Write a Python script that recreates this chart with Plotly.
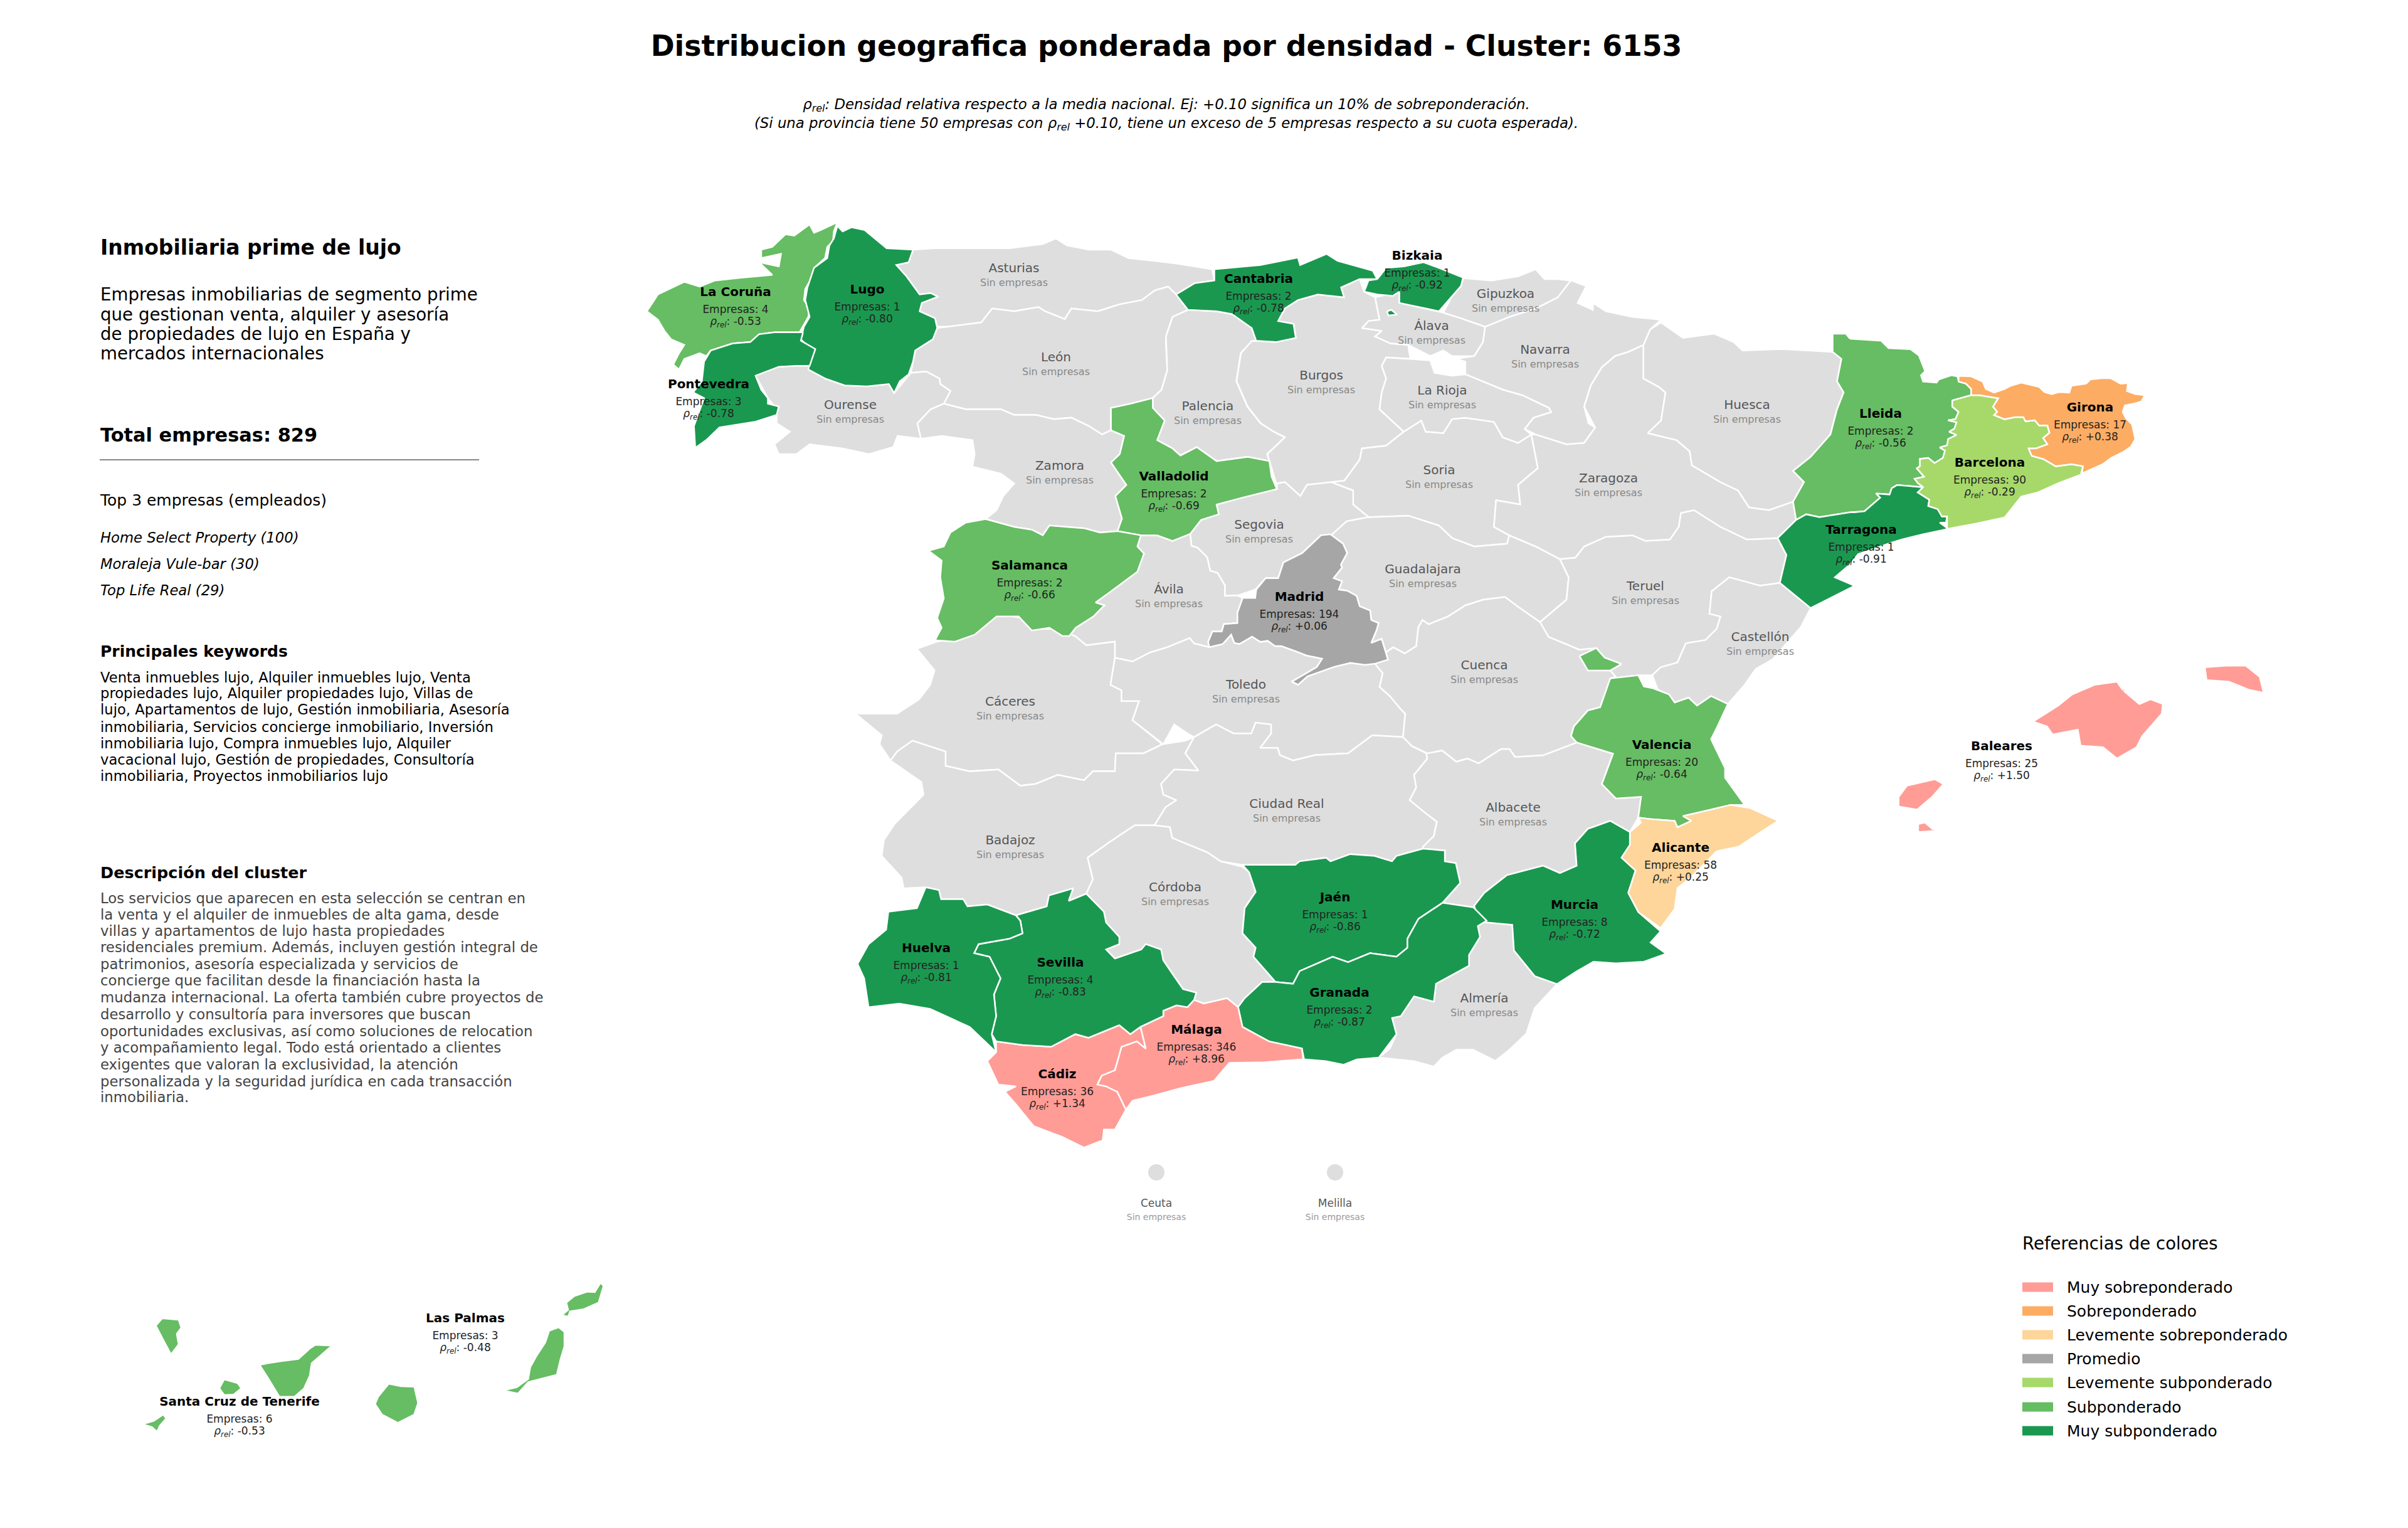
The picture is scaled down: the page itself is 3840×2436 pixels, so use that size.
#!/usr/bin/env python3
# -*- coding: utf-8 -*-
import plotly.graph_objects as go

# each outline was traced on a crop of the map, crop = (left, top, x scale, y scale)
CROPS = {
    "A": (1000, 340, 1.4255, 2.24),
    "B": (2000, 340, 1.4255, 2.24),
    "C": (1350, 1000, 1.4255, 1.742),
    "D": (2300, 1000, 1.12, 1.96),
    "E": (2950, 540, 3, 3),
    "M": (1900, 830, 3, 3),
    "S": (100, 2000, 1.65, 3),
}


def crop(name, pts):
    left, top, sx, sy = CROPS[name]
    return [(left + p[0] / sx, top + p[1] / sy) for p in pts]


#==========Outlines==========
ASTURIAS = crop("A", [(650,130),(700,125),(800,125),(870,125),(945,110),(975,90),(1000,115),(1050,130),(1100,130),(1140,160),(1200,170),(1250,180),(1330,200),(1335,240),(1290,250),(1248,290),(1230,262),(1200,275),(1170,310),(1120,325),(1070,350),(1010,340),(995,378),(950,350),(935,335),(880,350),(830,340),(805,390),(730,405),(705,405),(700,375),(665,350),(670,320),(707,298),(690,285),(665,290),(635,225),(612,185),(640,175)])
LEON = crop("A", [(705,410),(730,405),(805,390),(830,340),(880,350),(935,335),(950,350),(995,378),(1010,340),(1070,350),(1120,325),(1170,310),(1200,275),(1230,262),(1248,290),(1275,345),(1240,370),(1225,440),(1225,470),(1228,560),(1215,630),(1195,660),(1145,680),(1100,695),(1100,775),(1080,790),(1050,760),(1010,730),(970,735),(930,720),(880,720),(850,700),(770,700),(720,680),(735,635),(712,610),(710,590),(680,565),(645,570),(655,490),(695,450)])
OURENSE = crop("A", [(415,545),(450,590),(495,615),(545,618),(595,610),(607,642),(645,570),(680,565),(710,590),(712,610),(735,635),(720,680),(690,700),(660,750),(668,805),(615,795),(605,835),(550,860),(490,840),(415,825),(385,860),(345,860),(335,825),(370,780),(340,750),(340,700),(320,660),(292,580),(345,548),(385,545)])
ZAMORA = crop("A", [(720,680),(690,700),(660,750),(668,805),(715,795),(785,810),(790,860),(785,905),(850,930),(880,965),(855,1010),(840,1060),(815,1092),(880,1120),(920,1130),(945,1150),(960,1115),(1040,1125),(1075,1140),(1115,1135),(1125,1090),(1110,1010),(1135,970),(1100,890),(1120,860),(1130,795),(1100,775),(1080,790),(1050,760),(1010,730),(970,735),(930,720),(880,720),(850,700),(770,700)])
PALENCIA = crop("A", [(1275,345),(1340,350),(1375,360),(1420,410),(1430,455),(1400,490),(1395,500),(1385,600),(1410,690),(1425,720),(1440,750),(1470,780),(1495,800),(1455,860),(1460,885),(1410,870),(1340,885),(1295,835),(1258,865),(1240,840),(1205,810),(1222,740),(1195,695),(1195,660),(1215,630),(1228,560),(1225,470),(1225,440),(1240,370)])
BURGOS = crop("B", [(-5,455),(50,460),(95,445),(90,395),(55,385),(70,340),(100,310),(145,290),(200,300),(198,265),(240,235),(250,280),(275,300),(285,380),(260,385),(245,410),(290,420),(275,440),(310,465),(350,470),(355,520),(300,515),(290,545),(300,590),(290,640),(285,700),(340,780),(300,830),(245,840),(240,880),(205,955),(170,970),(120,970),(105,1010),(70,960),(50,965),(35,885),(30,860),(70,800),(45,780),(15,750),(0,720),(-15,690),(-40,600),(-30,500)])
SORIA = crop("B", [(340,780),(380,740),(390,780),(430,785),(450,735),(480,730),(545,745),(565,800),(600,820),(630,790),(640,870),(645,910),(600,970),(605,1040),(550,1025),(545,1120),(580,1150),(575,1180),(500,1190),(450,1160),(420,1115),(350,1080),(260,1085),(225,1040),(225,990),(175,960),(205,955),(240,880),(245,840),(300,830)])
SEGOVIA = crop("B", [(52,965),(70,960),(105,1010),(120,970),(175,960),(225,990),(225,1040),(260,1085),(210,1100),(175,1150)]) + crop("M", [(620,70),(530,155),(440,200),(415,275),(355,275),(305,330),(220,358),(160,360),(160,310),(125,250),(90,240),(75,175),(30,130),(0,120)]) + crop("A", [(1280,1145),(1305,1095),(1345,1075),(1340,1040),(1400,1015),(1477,985)])
AVILA = crop("A", [(1168,1150),(1205,1150),(1240,1170),(1280,1145)]) + crop("M", [(0,120),(30,130),(75,175),(90,240),(125,250),(160,310),(160,360),(220,358),(245,370),(220,440),(220,490),(155,495),(145,530),(100,530),(80,580),(85,605)]) + crop("C", [(790,45),(780,30),(730,55),(690,70),(650,95),(610,85),(610,40),(545,50),(520,25)]) + crop("A", [(1005,1510),(1020,1480),(1060,1440),(1085,1400),(1065,1390),(1100,1350),(1160,1280),(1175,1215),(1160,1190)])
CACERES = crop("C", [(160,60),(205,40),(250,30),(300,-25),(350,-35),(405,-25),(440,5),(480,5),(520,25),(545,50),(610,40),(610,85),(600,160),(625,175),(625,205),(665,205),(650,258),(718,325),(675,350),(612,350),(610,400),(560,400),(540,425),(480,410),(430,435),(395,440),(345,395),(280,400),(225,385),(225,345),(150,315),(115,345),(100,370),(75,325),(80,300),(50,270),(20,240),(115,240),(165,200),(190,160),(200,120)])
TOLEDO = crop("C", [(610,85),(650,95),(690,70),(730,55),(780,30),(790,45)]) + crop("M", [(85,605),(150,590),(190,545),(205,585),(230,590),(290,555),(330,580),(365,575),(400,600),(430,600),(500,625),(550,645),(625,660),(600,700),(560,725),(480,770),(510,785),(555,745),(680,700),(760,680),(830,690),(875,680),(915,730),(900,795),(950,840),(1000,900)]) + crop("C", [(1270,240),(1265,305),(1195,300),(1140,350),(1065,355),(1015,370),(985,355),(980,335),(940,335),(965,295),(965,270),(930,265),(920,295),(880,295),(840,270),(790,305),(775,295),(745,270),(720,325),(650,258),(665,205),(625,205),(625,175),(600,160)])
BADAJOZ = crop("C", [(100,370),(115,345),(150,315),(225,345),(225,385),(280,400),(345,395),(395,440),(430,435),(480,410),(540,425),(560,400),(610,400),(612,350),(675,350),(718,325),(770,315),(790,305),(770,350),(800,398),(745,395),(715,435),(720,465),(750,480),(725,500),(700,550),(655,550),(600,595),(548,640),(560,700),(545,740),(505,760),(515,725),(460,745),(455,775),(385,800),(320,770),(275,775),(265,755),(215,755),(210,730),(180,722),(130,725),(125,695),(80,635),(85,590),(110,545),(175,465),(170,430)])
CIUDAD_REAL = crop("C", [(790,305),(840,270),(880,295),(920,295),(930,265),(965,270),(965,295),(940,335),(980,335),(985,355),(1015,370),(1065,355),(1140,350),(1195,300),(1265,305),(1285,330),(1318,350),(1320,365),(1290,410),(1295,445),(1280,480),(1315,515),(1342,540),(1335,580),(1310,610),(1310,615),(1250,635),(1240,650),(1200,635),(1145,630),(1100,650),(1090,640),(1030,650),(1020,660),(900,660),(850,650),(820,625),(740,585),(735,555),(700,550),(725,500),(750,480),(720,465),(715,435),(745,395),(800,398),(770,350)])
CORDOBA = crop("C", [(700,550),(735,555),(740,585),(820,625),(850,650),(900,665),(915,680),(930,735),(905,780),(900,850),(930,890),(925,915),(975,985),(945,985),(905,1030),(890,1055),(865,1030),(812,1045),(790,1035),(795,1015),(765,1005),(745,970),(720,925),(715,895),(680,880),(670,895),(610,920),(590,895),(620,880),(620,860),(590,820),(585,790),(545,740),(560,700),(548,640),(600,595),(655,550)])
ALMERIA = crop("C", [(1210,1195),(1235,1170),(1250,1130),(1240,1085),(1260,1080),(1290,1025),(1335,1040),(1340,990),(1415,940),(1415,910),(1440,860),(1435,830),(1455,815)]) + crop("D", [(65,920),(125,930),(128,1010),(165,1090),(205,1115),(165,1190),(150,1270),(120,1320),(95,1355),(55,1320),(25,1320),(0,1345)]) + crop("C", [(1335,1220),(1290,1205)])
ALBACETE = crop("D", [(240,360),(305,395),(285,490),(310,535),(355,530),(350,595),(335,640),(300,605),(260,630),(237,675),(240,745),(210,768),(180,745),(115,775),(75,830),(57,870)]) + crop("C", [(1425,778),(1355,765),(1395,710),(1385,655),(1360,650),(1360,620),(1310,615),(1310,610),(1335,580),(1342,540),(1315,515),(1280,480),(1295,445),(1290,410),(1320,365),(1318,350)]) + crop("D", [(0,385),(25,420),(45,410),(65,425),(105,380),(120,380),(130,405),(180,400)])
CUENCA = crop("B", [(440,1440),(480,1400),(520,1380),(570,1370),(600,1405),(650,1460)]) + crop("D", [(180,0),(190,30),(245,70),(275,65),(290,95),(320,115),(300,135),(310,155),(300,160),(290,210),(282,250),(260,260),(235,310),(230,340),(240,360),(180,400),(130,405),(120,380),(105,380),(65,425),(45,410),(25,420),(0,385)]) + crop("C", [(1320,350),(1285,330),(1265,305),(1270,240)]) + crop("M", [(1000,900),(950,840),(900,795),(915,730),(875,680),(940,665),(930,630),(965,605),(1020,635),(1075,600),(1085,510),(1105,475),(1135,495)])
GUADALAJARA = crop("B", [(175,1150),(210,1100),(260,1085),(350,1080),(420,1115),(450,1160),(500,1190),(575,1180),(580,1150),(640,1190),(695,1235),(715,1300),(710,1380),(650,1460),(600,1405),(570,1370),(520,1380),(480,1400),(440,1440)]) + crop("M", [(1135,495),(1105,475),(1085,510),(1075,600),(1020,635),(965,605),(930,630),(910,565),(860,585),(885,525),(895,490),(860,475),(855,430),(805,410),(790,360),(745,335),(705,330),(720,290),(680,275),(720,225),(715,210),(745,155),(725,110)])
TERUEL = crop("B", [(695,1235),(730,1230),(750,1190),(800,1155),(860,1150),(890,1170),(945,1165),(965,1120),(970,1070),(1000,1060),(1060,1120),(1120,1165),(1190,1160),(1210,1220),(1195,1320),(1150,1330),(1080,1300),(1040,1350),(1035,1430),(1060,1440)]) + crop("D", [(490,5),(470,40),(435,50),(420,110),(390,125),(375,150),(350,150),(300,160),(310,155),(300,135),(320,115),(290,95),(275,65),(245,70),(190,30),(180,0)]) + crop("B", [(650,1460),(710,1380),(715,1300)])
CASTELLON = crop("B", [(1265,1410),(1195,1320),(1150,1330),(1080,1300),(1040,1350),(1035,1430),(1060,1440)]) + crop("D", [(490,5),(470,40),(435,50),(420,110),(390,125),(375,150),(385,195),(405,210),(415,235),(440,220),(455,245),(480,215),(510,240),(540,180),(560,130),(590,100),(640,0)])
ZARAGOZA = crop("B", [(630,790),(640,870),(645,910),(600,970),(605,1040),(550,1025),(545,1120),(580,1150),(640,1190),(695,1235),(730,1230),(750,1190),(800,1155),(860,1150),(890,1170),(945,1165),(965,1120),(970,1070),(1000,1060),(1060,1120),(1120,1165),(1190,1160),(1225,1105),(1232,1095),(1225,1030),(1170,1060),(1125,1050),(1100,990),(1060,960),(995,900),(990,850),(960,810),(895,785),(925,740),(935,640),(920,620),(885,590),(885,470),(850,495),(820,510),(790,550),(765,615),(750,690),(775,765),(750,820),(710,825),(640,790)])
HUESCA = crop("B", [(900,415),(925,390),(975,445),(1045,430),(1090,460),(1110,490),(1200,485),(1315,495),(1335,520),(1325,600),(1340,640),(1325,700),(1310,790),(1265,870),(1225,920),(1250,960),(1225,1030),(1170,1060),(1125,1050),(1100,990),(1060,960),(995,900),(990,850),(960,810),(895,785),(925,740),(935,640),(920,620),(885,590),(885,470)])
NAVARRA = crop("B", [(690,235),(720,240),(755,260),(735,320),(770,345),(770,320),(800,350),(860,370),(925,380),(900,415),(885,470),(850,495),(820,510),(790,550),(765,615),(750,690),(760,750),(775,765),(750,820),(710,825),(640,790),(615,770),(635,730),(675,710),(670,695),(610,650),(565,630),(480,575),(480,530),(460,520),(500,510),(520,460),(525,405),(580,370),(640,340),(690,300)])
LA_RIOJA = crop("B", [(290,545),(300,515),(355,520),(400,525),(410,570),(450,580),(480,575),(565,630),(610,650),(670,695),(675,710),(635,730),(615,770),(630,790),(600,820),(565,800),(545,745),(480,730),(450,735),(430,785),(390,780),(380,740),(340,780),(285,700),(290,640),(300,590)])
ALAVA = crop("B", [(275,300),(330,280),(330,320),(420,350),(430,355),(470,375),(525,405),(520,460),(500,510),(450,510),(430,490),(400,510),(350,470),(310,465),(275,440),(290,420),(245,410),(260,385),(285,380)])
GIPUZKOA = crop("B", [(475,232),(540,240),(600,225),(640,200),(660,235),(690,235),(720,240),(690,300),(640,340),(580,370),(525,405),(470,375),(430,355),(450,295),(470,260)])

LA_CORUNA = crop("A", [(478,32),(470,65),(468,100),(455,120),(450,160),(425,195),(420,230),(405,270),(402,310),(415,340),(412,370),(400,405),(392,425),(335,425),(300,432),(280,460),(240,465),(190,490),(180,510),(165,500),(130,520),(118,558),(105,540),(118,500),(130,470),(100,450),(85,420),(70,380),(45,350),(70,290),(130,245),(165,262),(200,240),(260,230),(330,220),(300,175),(345,190),(350,145),(305,160),(305,130),(330,120),(360,75),(380,80),(415,40),(425,70),(440,60)])
LUGO = crop("A", [(478,45),(490,65),(510,50),(540,60),(590,125),(650,130),(640,175),(612,185),(635,225),(665,290),(690,285),(707,298),(670,320),(665,350),(700,375),(705,410),(695,450),(655,490),(650,530),(640,575),(620,600),(607,642),(595,610),(545,618),(495,615),(450,590),(412,558),(420,490),(395,450),(402,405),(415,370),(405,310),(410,265),(425,195),(455,160),(460,115),(470,90)])
PONTEVEDRA = crop("A", [(400,425),(395,455),(428,485),(415,545),(385,545),(345,548),(292,580),(305,630),(320,660),(320,680),(345,690),(340,720),(290,745),(210,765),(180,810),(155,838),(152,760),(175,660),(150,640),(170,600),(175,530),(190,490),(240,465),(280,460),(300,432),(335,425)])
CANTABRIA = crop("A", [(1335,200),(1440,185),(1525,158),(1530,185),(1590,145),(1615,170),(1695,205),(1705,235),(1665,235),(1623,265),(1630,300),(1570,290),(1525,310),(1495,340),(1480,385),(1515,395),(1520,445),(1475,460),(1430,455),(1420,410),(1375,360),(1340,350),(1275,345),(1248,290),(1290,250),(1335,240)])
BIZKAIA = crop("B", [(280,235),(300,195),(340,190),(385,175),(420,195),(475,230),(470,260),(450,295),(420,350),(330,320),(330,280),(315,295),(280,290),(250,280),(260,240)]) + [None] + crop("B", [(302,350),(312,345),(325,362),(305,365)])
VALLADOLID = crop("A", [(1195,660),(1195,695),(1222,740),(1205,810),(1240,840),(1258,865),(1295,835),(1340,885),(1410,870),(1460,885),(1465,940),(1477,985),(1400,1015),(1340,1040),(1345,1075),(1305,1095),(1280,1145),(1240,1170),(1205,1150),(1168,1150),(1115,1135),(1125,1090),(1110,1010),(1135,970),(1100,890),(1120,860),(1130,795),(1100,775),(1100,695),(1145,680)])
SALAMANCA = crop("A", [(815,1092),(880,1120),(920,1130),(945,1150),(960,1115),(1040,1125),(1075,1140),(1115,1135),(1168,1150),(1160,1190),(1175,1215),(1160,1280),(1100,1350),(1065,1390),(1085,1400),(1060,1440),(1020,1480),(1005,1510),(990,1510),(960,1480),(920,1490),(890,1440),(840,1440),(790,1505),(745,1530),(700,1525),(715,1480),(705,1445),(720,1375),(712,1300),(715,1240),(685,1205),(720,1190),(735,1140),(770,1105)])
MADRID = crop("M", [(665,65),(725,110),(745,155),(715,210),(720,225),(680,275),(720,290),(705,330),(745,335),(790,360),(805,410),(855,430),(860,475),(895,490),(885,525),(860,585),(910,565),(930,630),(940,665),(875,685),(830,690),(760,680),(680,700),(555,745),(510,785),(480,770),(560,725),(600,700),(625,660),(550,645),(500,625),(430,600),(400,600),(365,575),(330,580),(290,555),(230,590),(205,585),(190,545),(150,590),(85,605),(80,580),(100,530),(145,530),(155,495),(220,490),(220,440),(245,370),(305,370),(310,330),(355,275),(415,275),(440,200),(530,155),(620,70)])
LLEIDA = crop("E", [(0,0),(150,10),(185,45),(290,50),(330,80),(350,130),(360,155),(340,175),(350,205),(415,210),(425,195),(485,175),(515,180),(520,205),(555,215),(580,240),(580,270),(490,295),(490,325),(520,350),(505,385),(470,390),(510,400),(500,430),(475,445),(510,460),(470,480),(465,510),(430,520),(455,535),(445,570),(405,595),(375,570),(335,575),(335,610),(320,620),(355,660),(310,670),(325,690),(350,710),(225,700),(200,715),(190,745),(125,740),(145,760),(70,825),(20,830),(0,830)]) + crop("B", [(1285,1085),(1255,1075),(1232,1095),(1225,1030),(1250,960),(1225,920),(1265,870),(1310,790),(1325,700),(1340,640),(1325,600),(1335,520),(1315,495),(1315,430),(1345,430)])
TARRAGONA = crop("E", [(0,830),(20,830),(70,825),(145,760),(125,740),(190,745),(200,715),(225,700),(350,710),(325,735),(380,770),(375,800),(420,815),(440,850),(465,850),(460,880),(430,880),(465,905),(460,912),(350,935),(250,960),(200,975),(100,1010),(40,1030),(0,1080)]) + crop("B", [(1320,1300),(1365,1330),(1265,1410),(1195,1320),(1210,1220),(1190,1160),(1225,1105),(1232,1095),(1255,1075),(1285,1085)])
BARCELONA = crop("E", [(490,295),(580,270),(620,270),(710,285),(685,325),(705,350),(690,365),(740,385),(790,375),(830,375),(840,395),(885,390),(905,415),(945,415),(955,450),(925,475),(945,505),(890,525),(855,525),(870,560),(925,575),(985,610),(1060,600),(1115,610),(1105,650),(1000,690),(900,735),(820,755),(740,855),(600,885),(465,910),(465,850),(440,850),(420,815),(375,800),(380,770),(325,735),(350,710),(325,690),(310,670),(355,660),(320,620),(335,610),(335,575),(375,570),(405,595),(445,570),(455,535),(430,520),(465,510),(470,480),(510,460),(475,445),(500,430),(510,400),(470,390),(505,385),(520,350),(490,325)])
GIRONA = crop("E", [(520,178),(580,180),(635,205),(650,240),(690,258),(740,240),(770,225),(820,210),(905,230),(930,255),(965,265),(1000,255),(1050,258),(1060,225),(1130,215),(1150,195),(1210,188),(1250,190),(1295,215),(1330,212),(1325,250),(1365,265),(1410,270),(1395,300),(1360,310),(1315,320),(1305,350),(1320,380),(1350,410),(1365,480),(1345,515),(1310,540),(1250,570),(1210,600),(1110,645),(1115,610),(1060,600),(985,610),(925,575),(870,560),(855,525),(890,525),(945,505),(925,475),(955,450),(945,415),(905,415),(885,390),(840,395),(830,375),(790,375),(740,385),(690,365),(705,350),(685,325),(710,285),(620,270),(580,270),(580,240),(555,215),(520,205)])
VALENCIA = crop("D", [(300,160),(350,150),(360,185),(375,190),(405,210),(415,235),(440,220),(455,245),(480,215),(510,240),(490,315),(480,350),(505,440),(505,470),(540,555),(515,555),(480,570),(430,590),(445,605),(420,625),(415,605),(375,600),(350,595),(355,530),(310,535),(285,490),(305,395),(240,360),(230,340),(235,310),(260,260),(282,250),(290,210)]) + [None] + crop("D", [(245,90),(275,65),(290,95),(320,115),(300,135),(260,135)])
ALICANTE = crop("D", [(350,595),(375,600),(415,605),(420,625),(445,605),(430,590),(480,570),(515,555),(550,565),(600,605),(560,650),(530,685),(490,700),(445,780),(420,815),(415,880),(390,940),(350,890),(332,830),(345,760),(320,720),(335,680),(335,640),(355,610)])
MURCIA = crop("D", [(300,605),(335,640),(335,680),(320,720),(345,760),(332,830),(350,890),(390,950),(372,985),(400,1020),(360,1045),(310,1050),(270,1045),(240,1075),(205,1115),(165,1090),(128,1010),(125,930),(65,920),(57,870),(75,830),(115,775),(180,745),(210,768),(240,745),(237,675),(260,630)])
JAEN = crop("C", [(900,660),(1020,660),(1030,650),(1090,640),(1100,650),(1145,630),(1200,635),(1240,650),(1250,635),(1310,615),(1360,620),(1360,650),(1385,655),(1395,710),(1355,765),(1300,810),(1275,865),(1275,890),(1250,915),(1190,905),(1140,930),(1105,915),(1030,955),(1015,990),(975,985),(925,915),(930,890),(900,850),(905,780),(930,735),(915,680)])
GRANADA = crop("C", [(975,985),(1015,990),(1030,955),(1105,915),(1140,930),(1190,905),(1250,915),(1275,890),(1275,865),(1300,810),(1355,765),(1425,778),(1455,815),(1435,830),(1440,860),(1415,910),(1415,940),(1340,990),(1335,1040),(1290,1025),(1260,1080),(1240,1085),(1250,1130),(1210,1195),(1160,1200),(1130,1215),(1090,1205),(1040,1200),(1035,1170),(960,1150),(900,1110),(890,1055),(905,1030),(945,985)])
MALAGA = crop("C", [(790,1035),(812,1045),(865,1030),(890,1055),(900,1110),(960,1150),(1035,1170),(1038,1200),(950,1208),(870,1210),(835,1260),(760,1280),(700,1300),(650,1315),(635,1340),(615,1290),(570,1270),(580,1245),(610,1230),(625,1165),(660,1150),(680,1170),(668,1110),(720,1080),(720,1065),(750,1050),(775,1055)])
CADIZ = crop("C", [(340,1150),(400,1160),(465,1165),(520,1130),(550,1140),(580,1125),(620,1105),(645,1130),(668,1110),(680,1170),(660,1150),(625,1165),(610,1230),(580,1245),(570,1270),(590,1275),(615,1290),(635,1340),(610,1395),(585,1395),(582,1425),(540,1445),(490,1415),(425,1385),(385,1325),(360,1290),(385,1275),(345,1270),(320,1205),(340,1180)])
SEVILLA = crop("C", [(385,800),(455,775),(460,745),(515,725),(505,760),(545,740),(585,790),(590,820),(620,860),(620,880),(590,895),(610,920),(670,895),(680,880),(715,895),(720,925),(745,970),(765,1005),(795,1015),(790,1035),(775,1055),(750,1050),(720,1065),(720,1080),(668,1110),(645,1130),(620,1105),(580,1125),(550,1140),(520,1130),(465,1165),(400,1160),(340,1150),(330,1130),(340,1080),(335,1020),(350,975),(325,915),(290,905),(300,880),(370,865),(400,850),(395,815)])
HUELVA = crop("C", [(180,722),(210,730),(215,755),(265,755),(275,775),(320,770),(385,800),(395,815),(400,850),(370,865),(300,880),(290,905),(325,915),(350,975),(335,1020),(340,1080),(330,1130),(340,1180),(280,1110),(190,1060),(120,1045),(50,1055),(40,975),(25,935),(50,880),(90,840),(95,790),(160,780)])
BALEARES = crop("D", [(1055,295),(1100,245),(1125,210),(1165,180),(1205,170),(1215,195),(1230,185),(1218,200),(1245,240),(1265,225),(1287,240),(1285,270),(1270,300),(1250,340),(1240,375),(1205,410),(1180,375),(1140,370),(1135,320),(1090,335),(1080,310)]) + [None] + crop("D", [(1362,125),(1400,120),(1435,120),(1460,155),(1467,205),(1440,195),(1405,170),(1365,165)]) + [None] + crop("D", [(815,530),(830,495),(880,475),(895,490),(875,530),(848,570),(815,560)]) + [None] + crop("D", [(850,615),(862,610),(875,630),(888,635),(850,640)])
SANTA_CRUZ = crop("S", [(262,305),(305,312),(312,350),(300,380),(305,430),(285,478),(265,410),(245,340)]) + [None] + crop("S", [(425,597),(460,615),(470,640),(450,670),(425,672),(412,640)]) + [None] + crop("S", [(518,528),(540,520),(575,510),(620,500),(650,450),(665,432),(700,435),(712,430),(690,465),(655,520),(650,580),(635,640),(610,680),(570,680),(540,590)]) + [None] + crop("S", [(265,765),(272,785),(255,820),(248,848),(235,825),(210,812),(240,795)])
LAS_PALMAS = crop("S", [(858,618),(890,630),(925,632),(935,710),(925,765),(882,805),(840,765),(822,715),(830,680)]) + [None] + crop("S", [(1415,135),(1423,150),(1410,230),(1370,262),(1335,272),(1330,297),(1313,290),(1330,265),(1325,230),(1345,200),(1380,178),(1400,180)]) + [None] + crop("S", [(1305,348),(1320,370),(1320,440),(1310,500),(1300,575),(1225,610),(1198,665),(1158,650),(1195,635),(1225,595),(1230,540),(1245,490),(1270,420),(1280,365)])

#==========Data==========
PROVINCIAS_SIN = ["Asturias", "León", "Ourense", "Zamora", "Palencia", "Burgos", "Soria", "Segovia", "Ávila", "Cáceres", "Toledo", "Badajoz", "Ciudad Real", "Córdoba", "Almería", "Albacete", "Cuenca", "Guadalajara", "Teruel", "Castellón", "Zaragoza", "Huesca", "Navarra", "La Rioja", "Álava", "Gipuzkoa"]
OUTLINES_SIN = [ASTURIAS, LEON, OURENSE, ZAMORA, PALENCIA, BURGOS, SORIA, SEGOVIA, AVILA, CACERES, TOLEDO, BADAJOZ, CIUDAD_REAL, CORDOBA, ALMERIA, ALBACETE, CUENCA, GUADALAJARA, TERUEL, CASTELLON, ZARAGOZA, HUESCA, NAVARRA, LA_RIOJA, ALAVA, GIPUZKOA]
SIN_X = [1617, 1684, 1356, 1690, 1926, 2107, 2295, 2008, 1864, 1611, 1987, 1611, 2052, 1874, 2367, 2413, 2367, 2269, 2624, 2807, 2565, 2786, 2464, 2300, 2283, 2401]
SIN_Y = [426, 568, 644, 741, 646, 597, 748, 835, 938, 1117, 1090, 1338, 1280, 1413, 1590, 1286, 1059, 906, 933, 1014, 761, 644, 556, 621, 518, 467]

PROVINCIAS = ["La Coruña", "Lugo", "Pontevedra", "Cantabria", "Bizkaia", "Valladolid", "Salamanca", "Madrid", "Lleida", "Tarragona", "Barcelona", "Girona", "Valencia", "Alicante", "Murcia", "Jaén", "Granada", "Málaga", "Cádiz", "Sevilla", "Huelva", "Baleares", "Santa Cruz de Tenerife", "Las Palmas"]
EMPRESAS = [4, 1, 3, 2, 1, 2, 2, 194, 2, 1, 90, 17, 20, 58, 8, 1, 2, 346, 36, 4, 1, 25, 6, 3]
RHO = [-0.53, -0.80, -0.78, -0.78, -0.92, -0.69, -0.66, 0.06, -0.56, -0.91, -0.29, 0.38, -0.64, 0.25, -0.72, -0.86, -0.87, 8.96, 1.34, -0.83, -0.81, 1.50, -0.53, -0.48]
OUTLINES = [LA_CORUNA, LUGO, PONTEVEDRA, CANTABRIA, BIZKAIA, VALLADOLID, SALAMANCA, MADRID, LLEIDA, TARRAGONA, BARCELONA, GIRONA, VALENCIA, ALICANTE, MURCIA, JAEN, GRANADA, MALAGA, CADIZ, SEVILLA, HUELVA, BALEARES, SANTA_CRUZ, LAS_PALMAS]
LABEL_X = [1173, 1383, 1130, 2007, 2260, 1872, 1642, 2072, 2999, 2968, 3173, 3333, 2650, 2680, 2511, 2129, 2136, 1908, 1686, 1691, 1477, 3192, 382, 742]
LABEL_Y = [464, 460, 611, 443, 406, 758, 900, 950, 658, 843, 736, 648, 1186, 1350, 1441, 1429, 1581, 1640, 1711, 1533, 1510, 1188, 2233, 2100]

CIUDADES = ["Ceuta", "Melilla"]
CIUDAD_X = [1844, 2129]

REFERENCIAS = ["Muy sobreponderado", "Sobreponderado", "Levemente sobreponderado", "Promedio", "Levemente subponderado", "Subponderado", "Muy subponderado"]
COLORES = ["#ff9c96", "#fdac63", "#fed59a", "#a6a6a6", "#a6d96a", "#66bd63", "#1a9850"]
RHO_CORTES = [1.0, 0.30, 0.10, -0.10, -0.30, -0.70]
GRIS = "#dedede"

TITULO = "Distribucion geografica ponderada por densidad - Cluster: 6153"
SUBTITULO = ["ρ<sub>rel</sub>: Densidad relativa respecto a la media nacional. Ej: +0.10 significa un 10% de sobreponderación.",
             "(Si una provincia tiene 50 empresas con ρ<sub>rel</sub> +0.10, tiene un exceso de 5 empresas respecto a su cuota esperada)."]
RESUMEN = ["Empresas inmobiliarias de segmento prime", "que gestionan venta, alquiler y asesoría", "de propiedades de lujo en España y", "mercados internacionales"]
TOP3 = ["Home Select Property (100)", "Moraleja Vule-bar (30)", "Top Life Real (29)"]
KEYWORDS = ["Venta inmuebles lujo, Alquiler inmuebles lujo, Venta", "propiedades lujo, Alquiler propiedades lujo, Villas de",
            "lujo, Apartamentos de lujo, Gestión inmobiliaria, Asesoría", "inmobiliaria, Servicios concierge inmobiliario, Inversión",
            "inmobiliaria lujo, Compra inmuebles lujo, Alquiler", "vacacional lujo, Gestión de propiedades, Consultoría",
            "inmobiliaria, Proyectos inmobiliarios lujo"]
DESCRIPCION = ["Los servicios que aparecen en esta selección se centran en", "la venta y el alquiler de inmuebles de alta gama, desde",
               "villas y apartamentos de lujo hasta propiedades", "residenciales premium. Además, incluyen gestión integral de",
               "patrimonios, asesoría especializada y servicios de", "concierge que facilitan desde la financiación hasta la",
               "mudanza internacional. La oferta también cubre proyectos de", "desarrollo y consultoría para inversores que buscan",
               "oportunidades exclusivas, así como soluciones de relocation", "y acompañamiento legal. Todo está orientado a clientes",
               "exigentes que valoran la exclusividad, la atención", "personalizada y la seguridad jurídica en cada transacción",
               "inmobiliaria."]

RESUMEN_Y = [469, 501, 532, 563]
TOP3_Y = [856, 898, 940]
KEYWORDS_Y = [1079, 1104, 1130, 1158, 1184, 1210, 1236]
DESCRIPCION_Y = [1431, 1457, 1483, 1509, 1536, 1562, 1589, 1616, 1643, 1669, 1696, 1723, 1748]
LEYENDA_Y = [2052, 2090, 2128, 2166, 2204, 2243, 2281]
PANEL_X = 160
FONT = "DejaVu Sans"
BODY_MARGIN = 8  # the page keeps the browser's default body margin
TEXT_DROP = 3  # middle anchored text sits a bit high against the traced rows


def color_rho(rho):
    for corte, color in zip(RHO_CORTES, COLORES):
        if rho > corte:
            return color
    return COLORES[-1]


fig = go.Figure()


def add_shape(name, outline, color):
    xs, ys = [], []
    ring = []
    for p in outline + [None]:
        if p:
            ring.append(p)
        else:
            xs += [q[0] for q in ring] + [ring[0][0], None]
            ys += [q[1] for q in ring] + [ring[0][1], None]
            ring = []
    fig.add_trace(go.Scatter(x=xs[:-1], y=ys[:-1], mode="lines", fill="toself", fillcolor=color,
                             line=dict(color="white", width=2.5), name=name, hoverinfo="name"))


def add_text(xs, ys, texts, size, color="black", pos="middle right", weight="normal", style="normal"):
    fig.add_trace(go.Scatter(x=xs, y=[y + TEXT_DROP for y in ys], text=texts, mode="text", textposition=pos, hoverinfo="skip",
                             textfont=dict(family=FONT, size=size, color=color, weight=weight, style=style)))


#==========Map==========
for name, outline in zip(PROVINCIAS_SIN, OUTLINES_SIN):
    add_shape(name, outline, GRIS)
for name, outline, rho in zip(PROVINCIAS, OUTLINES, RHO):
    add_shape(name, outline, color_rho(rho))

fig.add_trace(go.Scatter(x=CIUDAD_X, y=[1869, 1869], mode="markers", marker=dict(color=GRIS, size=26), hoverinfo="skip"))

add_text(SIN_X, SIN_Y, PROVINCIAS_SIN, 20, "#555555", "middle center")
add_text(SIN_X, [y + 23 for y in SIN_Y], ["Sin empresas"] * len(SIN_X), 16, "#888888", "middle center")
add_text(CIUDAD_X, [1917, 1917], CIUDADES, 17, "#555555", "middle center")
add_text(CIUDAD_X, [1938, 1938], ["Sin empresas"] * 2, 14, "#999999", "middle center")

add_text(LABEL_X, LABEL_Y, PROVINCIAS, 20, "#000000", "middle center", weight="bold")
add_text(LABEL_X, [y + 28 for y in LABEL_Y], ["Empresas: %d" % e for e in EMPRESAS], 17, "#222222", "middle center")
add_text(LABEL_X, [y + 47 for y in LABEL_Y], ["<i>ρ<sub>rel</sub></i>: %+.2f" % r for r in RHO], 17, "#222222", "middle center")

#==========Header and left panel==========
add_text([1860, 1860], [165, 195], SUBTITULO, 22.8, "black", "middle center", style="italic")
add_text([PANEL_X], [395], ["Inmobiliaria prime de lujo"], 33, weight="bold")
add_text([PANEL_X] * 4, RESUMEN_Y, RESUMEN, 27.7)
add_text([PANEL_X], [693], ["Total empresas: 829"], 30.4, weight="bold")
add_text([PANEL_X], [797], ["Top 3 empresas (empleados)"], 25)
add_text([PANEL_X] * 3, TOP3_Y, TOP3, 22.7, style="italic")
add_text([PANEL_X], [1038], ["Principales keywords"], 25, weight="bold")
add_text([PANEL_X] * 7, KEYWORDS_Y, KEYWORDS, 22.7)
add_text([PANEL_X], [1391], ["Descripción del cluster"], 25.5, weight="bold")
add_text([PANEL_X] * 13, DESCRIPCION_Y, DESCRIPCION, 22.8, "#444444")

#==========Legend==========
add_text([3225], [1982], ["Referencias de colores"], 27.6)
add_text([3296] * 7, LEYENDA_Y, REFERENCIAS, 25)

shapes = [dict(type="line", x0=159, x1=764, y0=733, y1=733, line=dict(color="#888888", width=2))]
for y, color in zip(LEYENDA_Y, COLORES):
    shapes.append(dict(type="rect", x0=3225, x1=3274, y0=y - 7.5, y1=y + 7.5, fillcolor=color, line=dict(width=0)))

fig.update_layout(
    width=3840 - BODY_MARGIN, height=2436 - BODY_MARGIN, showlegend=False, paper_bgcolor="white", plot_bgcolor="white",
    margin=dict(l=0, r=0, t=0, b=0), shapes=shapes,
    title=dict(text=TITULO, x=(1860 - BODY_MARGIN) / (3840 - BODY_MARGIN),
               y=1 - (73 - BODY_MARGIN) / (2436 - BODY_MARGIN), xanchor="center", yanchor="middle",
               font=dict(family=FONT, size=45.7, color="black", weight="bold")),
    xaxis=dict(range=[BODY_MARGIN, 3840], visible=False),
    yaxis=dict(range=[2436, BODY_MARGIN], visible=False),
)

fig.write_html("out.html")
